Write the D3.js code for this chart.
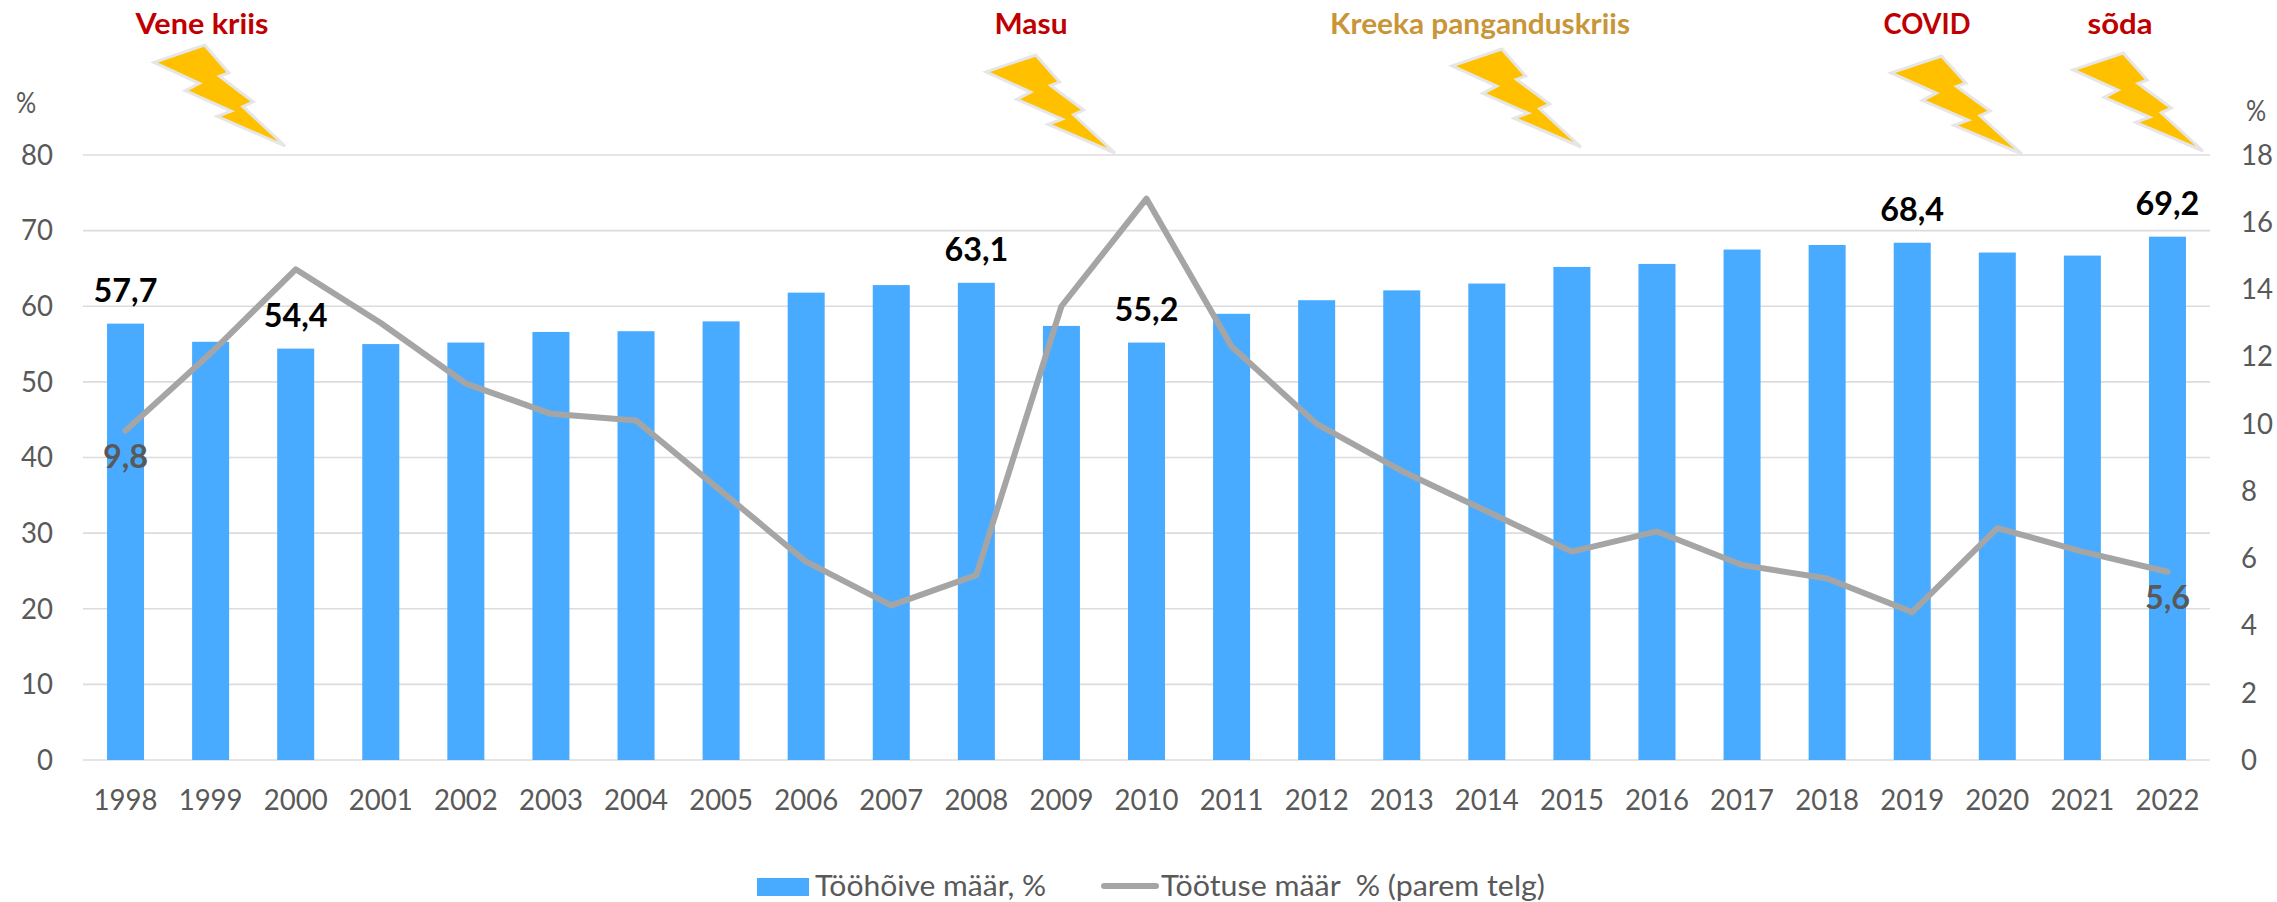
<!DOCTYPE html>
<html>
<head>
<meta charset="utf-8">
<style>
  html, body { margin: 0; padding: 0; background: #fff; }
  svg { display: block; }
  text { font-family: Lato, "Open Sans", sans-serif; }
</style>
<script src="https://cdnjs.cloudflare.com/ajax/libs/d3/7.8.5/d3.min.js"></script>
</head>
<body>
<svg id="chart" width="2277" height="902"></svg>
<script>
const years = ['1998','1999','2000','2001','2002','2003','2004','2005','2006','2007','2008','2009','2010','2011','2012','2013','2014','2015','2016','2017','2018','2019','2020','2021','2022'];
const employment = [57.7,55.3,54.4,55.0,55.2,56.6,56.7,58.0,61.8,62.8,63.1,57.4,55.2,59.0,60.8,62.1,63.0,65.2,65.6,67.5,68.1,68.4,67.1,66.7,69.2];
const unemployment = [9.8,12.1,14.6,13.0,11.2,10.3,10.1,8.0,5.9,4.6,5.5,13.5,16.7,12.3,10.0,8.6,7.4,6.2,6.8,5.8,5.4,4.4,6.9,6.2,5.6];
const labelledEmployment = ['1998','2000','2008','2010','2019','2022'];
const labelledUnemployment = ['1998','2022'];
const leftTicks = [0,10,20,30,40,50,60,70,80];
const rightTicks = [0,2,4,6,8,10,12,14,16,18];
const eventNames = ['Vene kriis','Masu','Kreeka panganduskriis','COVID','sõda'];
const eventColors = ['#c00000','#c00000','#c89538','#c00000','#c00000'];
const legendNames = ['Tööhõive määr, %','Töötuse määr  % (parem telg)'];

const MARGIN = { TOP: 155, RIGHT: 67, BOTTOM: 142, LEFT: 83 };
const WIDTH = 2277 - MARGIN.LEFT - MARGIN.RIGHT;
const HEIGHT = 902 - MARGIN.TOP - MARGIN.BOTTOM;
const GREY = '#595959';

const svg = d3.select('#chart');

// squeeze text horizontally so Lato takes the width of the original font
const fit = (sel, k) => sel.each(function () {
    const len = this.getComputedTextLength();
    d3.select(this)
        .attr('textLength', len * k)
        .attr('lengthAdjust', 'spacingAndGlyphs');
});
const decimal = v => String(v.toFixed(1)).replace('.', ',');

const xScale = d3.scaleBand().domain(years).range([0, WIDTH]).paddingInner(0.565).paddingOuter(0.2825);
const yLeft = d3.scaleLinear().domain([0, 80]).range([HEIGHT, 0]);
const yRight = d3.scaleLinear().domain([0, 18]).range([HEIGHT, 0]);
const xMid = y => xScale(y) + xScale.bandwidth() / 2;

const g = svg.append('g').attr('transform', `translate(${MARGIN.LEFT},${MARGIN.TOP})`);

// gridlines
g.append('g').selectAll('line').data(leftTicks).join('line')
    .attr('x1', 0).attr('x2', WIDTH)
    .attr('y1', d => yLeft(d)).attr('y2', d => yLeft(d))
    .attr('stroke', '#dcdcdc').attr('stroke-width', 1.6);

// bars
g.append('g').selectAll('rect').data(years).join('rect')
    .attr('x', d => xScale(d))
    .attr('y', (d, i) => yLeft(employment[i]))
    .attr('width', xScale.bandwidth())
    .attr('height', (d, i) => HEIGHT - yLeft(employment[i]))
    .attr('fill', '#49abff');

// line
const line = d3.line().x((d, i) => xMid(years[i])).y(d => yRight(d));
g.append('path').datum(unemployment)
    .attr('fill', 'none').attr('stroke', '#a5a5a5').attr('stroke-width', 6)
    .attr('stroke-linecap', 'round').attr('stroke-linejoin', 'round')
    .attr('d', line);

// axes
const axisL = g.append('g').call(d3.axisLeft(yLeft).tickValues(leftTicks).tickSize(0).tickPadding(30));
const axisR = g.append('g').attr('transform', `translate(${WIDTH},0)`)
    .call(d3.axisRight(yRight).tickValues(rightTicks).tickSize(0).tickPadding(31));
const axisB = g.append('g').attr('transform', `translate(0,${HEIGHT})`)
    .call(d3.axisBottom(xScale).tickSize(0).tickPadding(29));
[axisL, axisR, axisB].forEach(a => {
    a.select('.domain').remove();
    a.selectAll('text')
        .attr('font-size', 29).attr('fill', GREY)
        .style('font-family', 'Lato, sans-serif')
        .call(fit, 0.95);
});

// value labels
g.append('g').selectAll('text').data(labelledEmployment).join('text')
    .attr('x', d => xMid(d))
    .attr('y', d => yLeft(employment[years.indexOf(d)]) - 22)
    .attr('text-anchor', 'middle').attr('font-size', 33).attr('font-weight', 700).attr('fill', '#000')
    .text(d => decimal(employment[years.indexOf(d)]))
    .call(fit, 0.98);
g.append('g').selectAll('text').data(labelledUnemployment).join('text')
    .attr('x', d => xMid(d))
    .attr('y', d => yRight(unemployment[years.indexOf(d)]) + 37)
    .attr('text-anchor', 'middle').attr('font-size', 33).attr('font-weight', 700).attr('fill', GREY)
    .text(d => decimal(unemployment[years.indexOf(d)]))
    .call(fit, 0.98);

// unit labels
svg.append('text').attr('x', 16).attr('y', 113).attr('font-size', 28).attr('fill', GREY).text('%').call(fit, 0.9);
svg.append('text').attr('x', 2246).attr('y', 121).attr('font-size', 28).attr('fill', GREY).text('%').call(fit, 0.9);

// crisis labels and lightning bolts
const eventLabelX = [202, 1031, 1480, 1927, 2120];
const eventLabelLen = [133, 73, 300, 87, 65];
const boltBox = [[154,45,285,146],[986,55,1115,153],[1452,49,1581,147],[1891,56,2022,154],[2073,53,2203,151]];
const boltShape = [[.386,0],[.571,.276],[.5,.31],[.757,.562],[.679,.61],[1,1],[.482,.707],[.589,.655],[.239,.452],[.346,.379],[0,.172]];

svg.append('g').selectAll('text').data(eventNames).join('text')
    .attr('x', (d, i) => eventLabelX[i]).attr('y', 34)
    .attr('text-anchor', 'middle').attr('font-size', 28).attr('font-weight', 700)
    .attr('fill', (d, i) => eventColors[i])
    .attr('textLength', (d, i) => eventLabelLen[i]).attr('lengthAdjust', 'spacingAndGlyphs')
    .text(d => d);

svg.append('g').selectAll('path').data(boltBox).join('path')
    .attr('d', b => {
        const bx = d3.scaleLinear().range([b[0], b[2]]);
        const by = d3.scaleLinear().range([b[1], b[3]]);
        return d3.line().x(p => bx(p[0])).y(p => by(p[1]))(boltShape) + 'Z';
    })
    .attr('fill', '#ffc000').attr('stroke', '#e7e6e6').attr('stroke-width', 3);

// legend
const legend = svg.append('g');
legend.append('rect').attr('x', 757).attr('y', 878).attr('width', 52).attr('height', 18).attr('fill', '#49abff');
legend.append('line').attr('x1', 1104).attr('x2', 1156).attr('y1', 886).attr('y2', 886)
    .attr('stroke', '#a5a5a5').attr('stroke-width', 6).attr('stroke-linecap', 'round');
const legendX = [815, 1161];
const legendLen = [231, 384];
legend.selectAll('text').data(legendNames).join('text')
    .attr('x', (d, i) => legendX[i]).attr('y', 896)
    .attr('font-size', 28).attr('fill', GREY)
    .style('white-space', 'pre')
    .attr('textLength', (d, i) => legendLen[i]).attr('lengthAdjust', 'spacingAndGlyphs')
    .text(d => d);
</script>
</body>
</html>
